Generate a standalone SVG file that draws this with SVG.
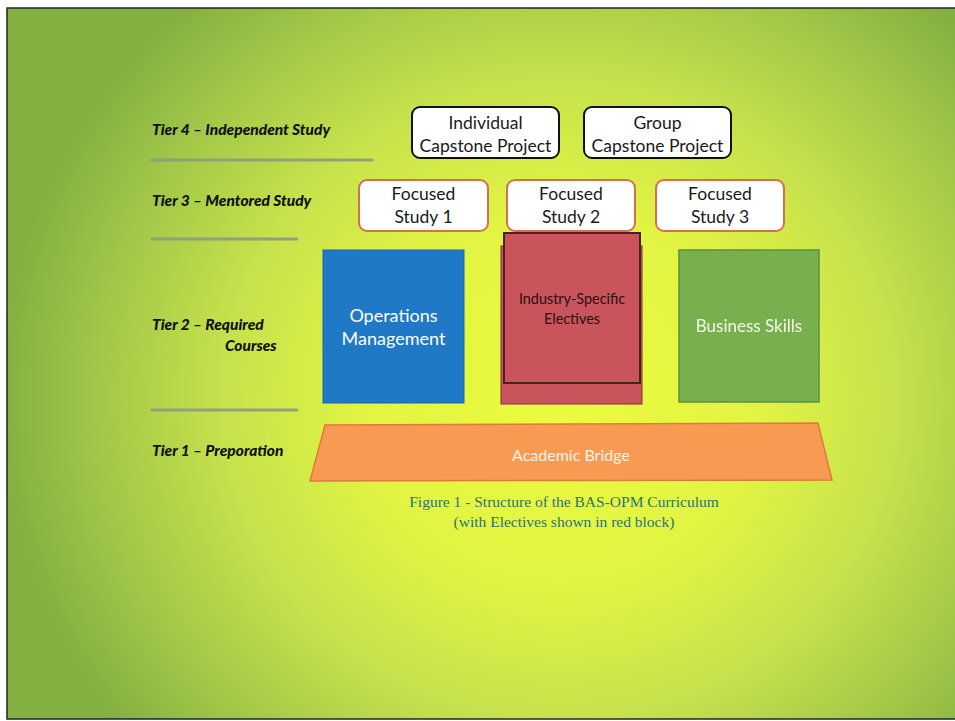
<svg xmlns="http://www.w3.org/2000/svg" width="955" height="721" viewBox="0 0 955 721">
  <defs>
    <radialGradient id="bg" gradientUnits="userSpaceOnUse" cx="560" cy="400" r="560" gradientTransform="translate(560 400) scale(1 0.95) translate(-560 -400)">
      <stop offset="0" stop-color="#ecfb3e"/>
      <stop offset="0.35" stop-color="#e2f443"/>
      <stop offset="0.6" stop-color="#c6e24c"/>
      <stop offset="0.82" stop-color="#a2c848"/>
      <stop offset="1" stop-color="#84b042"/>
    </radialGradient>
    <filter id="soft" x="-10%" y="-50%" width="120%" height="200%">
      <feGaussianBlur stdDeviation="0.45"/>
    </filter>
    <style>
      .tier { font-family: Lato, "Open Sans", sans-serif; font-weight: 900; font-style: italic; font-size: 15.5px; fill: #111; }
      .sep { stroke: #8f9a80; stroke-width: 3; stroke-linecap: round; opacity: 0.9; }
      .t4 { fill: #ffffff; stroke: #111; stroke-width: 2; }
      .t3 { fill: #ffffff; stroke: #d5704e; stroke-width: 2; }
      .lbl { font-family: Lato, "Open Sans", sans-serif; font-size: 17.5px; fill: #1a1a1a; text-anchor: middle; }
      .wlbl { font-family: Lato, "Open Sans", sans-serif; font-size: 18px; fill: #ffffff; text-anchor: middle; }
      .cap { font-family: "Liberation Serif", serif; font-size: 15.5px; fill: #2b7470; text-anchor: middle; }
    </style>
  </defs>

  <rect x="0" y="0" width="955" height="721" fill="#ffffff"/>
  <rect x="7" y="8" width="952" height="711" fill="url(#bg)" stroke="#222" stroke-width="1.5"/>

  <g id="tier-labels">
    <text class="tier" x="152" y="135">Tier 4 – Independent Study</text>
    <text class="tier" x="152" y="206">Tier 3 – Mentored Study</text>
    <text class="tier" x="152" y="330">Tier 2 – Required</text>
    <text class="tier" x="225" y="351">Courses</text>
    <text class="tier" x="152" y="456">Tier 1 – Preporation</text>
  </g>

  <g id="separators">
    <line class="sep" x1="152" y1="160" x2="372" y2="160"/>
    <line class="sep" x1="152" y1="239" x2="297" y2="239"/>
    <line class="sep" x1="152" y1="410" x2="297" y2="410"/>
  </g>

  <g id="individual-capstone">
    <rect class="t4" x="412" y="107" width="147" height="51" rx="8"/>
    <text class="lbl" x="485.5" y="129">Individual</text>
    <text class="lbl" x="485.5" y="152">Capstone Project</text>
  </g>
  <g id="group-capstone">
    <rect class="t4" x="584" y="107" width="147" height="51" rx="8"/>
    <text class="lbl" x="657.5" y="129">Group</text>
    <text class="lbl" x="657.5" y="152">Capstone Project</text>
  </g>

  <g id="focused-study-1">
    <rect class="t3" x="359" y="180" width="129" height="51" rx="8"/>
    <text class="lbl" x="423.5" y="200">Focused</text>
    <text class="lbl" x="423.5" y="223">Study 1</text>
  </g>
  <g id="focused-study-2">
    <rect class="t3" x="507" y="180" width="128" height="51" rx="8"/>
    <text class="lbl" x="571" y="200">Focused</text>
    <text class="lbl" x="571" y="223">Study 2</text>
  </g>
  <g id="focused-study-3">
    <rect class="t3" x="656" y="180" width="128" height="51" rx="8"/>
    <text class="lbl" x="720" y="200">Focused</text>
    <text class="lbl" x="720" y="223">Study 3</text>
  </g>

  <g id="operations-management">
    <rect x="323" y="250" width="141" height="153" fill="#1f79c6" stroke="#1a68ab" stroke-width="1"/>
    <text class="wlbl" x="393.5" y="322">Operations</text>
    <text class="wlbl" x="393.5" y="345">Management</text>
  </g>

  <g id="industry-electives">
    <rect x="501" y="246" width="141" height="158" fill="#c9545c" stroke="#7a3040" stroke-width="1"/>
    <rect x="504" y="233" width="136" height="150" fill="#c9545c" stroke="#4a2226" stroke-width="2"/>
    <text x="572" y="304" font-family="Lato, 'Open Sans', sans-serif" font-size="14.4" fill="#2a1010" text-anchor="middle">Industry-Specific</text>
    <text x="572" y="324" font-family="Lato, 'Open Sans', sans-serif" font-size="14.4" fill="#2a1010" text-anchor="middle">Electives</text>
  </g>

  <g id="business-skills">
    <rect x="679" y="250" width="140" height="152" fill="#78b04e" stroke="#5f8f3c" stroke-width="1.5"/>
    <text x="749" y="332" font-family="Lato, 'Open Sans', sans-serif" font-size="17" fill="#f4f9ee" text-anchor="middle" filter="url(#soft)">Business Skills</text>
  </g>

  <g id="academic-bridge">
    <polygon points="325,425 818,423 832,480 310,481" fill="#f99a52" stroke="#e07a3c" stroke-width="1.5"/>
    <text x="571" y="461" font-family="Lato, 'Open Sans', sans-serif" font-size="16" fill="#fff3e8" text-anchor="middle">Academic Bridge</text>
  </g>

  <g id="caption">
    <text class="cap" x="564" y="507">Figure 1 - Structure of the BAS-OPM Curriculum</text>
    <text class="cap" x="564" y="527">(with Electives shown in red block)</text>
  </g>

  <g id="connectors"></g>
</svg>
